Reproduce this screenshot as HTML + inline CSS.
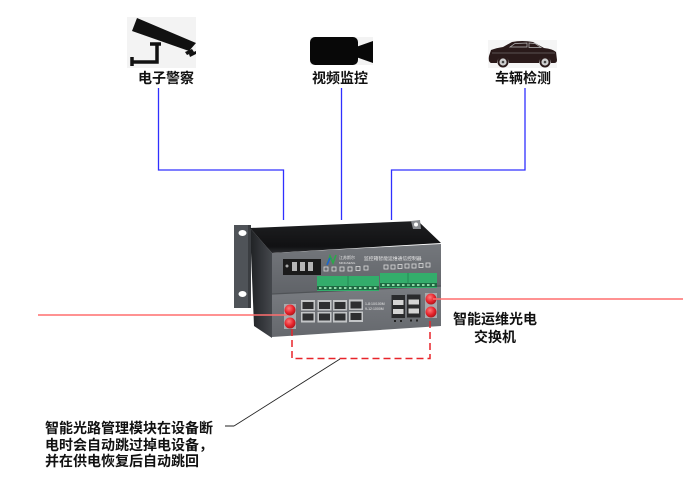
<!DOCTYPE html>
<html><head><meta charset="utf-8"><style>
html,body{margin:0;padding:0;background:#fff;}
svg{display:block;}
.lb{font-family:"Liberation Sans","Noto Sans CJK SC",sans-serif;font-weight:bold;fill:#111;font-size:14px;}
.tiny{font-family:"Liberation Sans","Noto Sans CJK SC",sans-serif;fill:#e6e6e6;}
</style></head><body>
<svg width="700" height="495" viewBox="0 0 700 495" xmlns="http://www.w3.org/2000/svg">
<defs>
<linearGradient id="top" x1="0" y1="0" x2="0" y2="1">
<stop offset="0" stop-color="#1e1f21"/><stop offset="0.8" stop-color="#111113"/><stop offset="1" stop-color="#2a2b2e"/>
</linearGradient>
<linearGradient id="side" x1="0" y1="0" x2="1" y2="0">
<stop offset="0" stop-color="#1f2124"/><stop offset="1" stop-color="#45484d"/>
</linearGradient>
<linearGradient id="up" x1="0" y1="0" x2="0" y2="1">
<stop offset="0" stop-color="#74777c"/><stop offset="1" stop-color="#606368"/>
</linearGradient>
<linearGradient id="lo" x1="0" y1="0" x2="0" y2="1">
<stop offset="0" stop-color="#7a7d82"/><stop offset="1" stop-color="#65686d"/>
</linearGradient>
<radialGradient id="red" cx="0.4" cy="0.35" r="0.7">
<stop offset="0" stop-color="#ff7a7a"/><stop offset="0.6" stop-color="#e5222a"/><stop offset="1" stop-color="#a8141a"/>
</radialGradient>
</defs>

<!-- icons -->
<rect x="127" y="17" width="69" height="51" fill="#f3f3f3"/>
<polygon points="137,18 196,43 189,51 132,31" fill="#111"/>
<polygon points="185,52 192,49 194,52 187,55" fill="#111"/>
<polygon points="189,54 196,51 196,54 190,57" fill="#111"/>
<path d="M150,44 H161 M157,44 V62 H132 M132,57 V66" stroke="#111" stroke-width="3.5" fill="none"/>

<rect x="310" y="37" width="63" height="28" fill="#f3f3f3"/>
<rect x="310" y="37" width="48" height="28" rx="5" fill="#080808"/>
<polygon points="356,47 373,41 373,63 356,57" fill="#080808"/>

<rect x="488" y="40" width="69" height="28" fill="#f5f5f5"/>
<path d="M489,56 L491,50 Q496,48 503,47 L512,42 Q522,40 533,42 L544,48 Q553,49 556,52 L557,60 Q557,63 554,63 L551,63 A6,6 0 0 0 539,63 L509,63 A6,6 0 0 0 497,63 L491,63 Q488,62 489,56 Z" fill="#2a1a1a"/>
<path d="M510,47 L515,43.5 L527,43 L527,47 Z M529,43 L535,43.5 L541,47.5 L529,47.5 Z" fill="none" stroke="#bbb" stroke-width="0.7"/>
<path d="M492,53 H555" stroke="#888" stroke-width="0.5"/>
<circle cx="503" cy="62" r="5.5" fill="#2a1a1a"/><circle cx="503" cy="62" r="3.6" fill="#cfcfcf"/><circle cx="503" cy="62" r="1.3" fill="#444"/>
<circle cx="545" cy="62" r="5.5" fill="#2a1a1a"/><circle cx="545" cy="62" r="3.6" fill="#cfcfcf"/><circle cx="545" cy="62" r="1.3" fill="#444"/>

<text class="lb" x="166" y="83" text-anchor="middle">电子警察</text>
<text class="lb" x="340" y="83" text-anchor="middle">视频监控</text>
<text class="lb" x="523" y="83" text-anchor="middle">车辆检测</text>

<!-- blue lines -->
<path d="M158.5,88 V170 H283.5 V220 M341.5,88 V220 M525,88 V170 H391.5 V220" stroke="#3030ff" stroke-width="1.3" fill="none"/>

<!-- device -->
<polygon points="250,228 272,253 272,338 254,326" fill="url(#side)"/>
<rect x="234" y="225" width="17" height="83" fill="#4f5358"/>
<rect x="248" y="225" width="3" height="83" fill="#3a3d41"/>
<ellipse cx="242.5" cy="233" rx="4" ry="3" fill="#fff"/>
<ellipse cx="242.5" cy="294" rx="4" ry="3" fill="#fff"/>
<polygon points="250,228 418,221 441,243 272,253" fill="url(#top)"/>
<polygon points="411,221 420,220 421,229 413,229" fill="#8a8d91"/>
<circle cx="416" cy="224.5" r="2" fill="#fff"/>
<polygon points="272,253 441,244 441,286 272,294" fill="url(#up)"/>
<polygon points="272,294 441,286 441,326 272,337" fill="url(#lo)"/>
<path d="M272,294 L441,286" stroke="#505357" stroke-width="1.2"/>

<!-- power terminal -->
<rect x="283" y="259" width="38" height="16" fill="#1b1b1b"/>
<rect x="292" y="262" width="5" height="9" fill="#b5b5b5"/>
<rect x="300" y="262" width="5" height="9" fill="#b5b5b5"/>
<rect x="308" y="262" width="5" height="9" fill="#b5b5b5"/>
<circle cx="287" cy="266" r="1.5" fill="#aaa"/>
<!-- logo -->
<path d="M327,265 L330,256 L333,263 L336,255" stroke="#2aa84a" stroke-width="1.6" fill="none"/>
<path d="M327,265 L330,258" stroke="#2060d0" stroke-width="1.6"/>
<text class="tiny" x="339" y="259" font-size="4">江苏斯尔</text>
<text class="tiny" x="339" y="264" font-size="3">MINGSENG</text>
<text class="tiny" x="364" y="260" font-size="4.8">监控箱智能运维通信控制器</text>
<!-- icon row -->
<g fill="none" stroke="#dcdcdc" stroke-width="0.8">
<rect x="324" y="267" width="4" height="4"/><rect x="332" y="267" width="4" height="4"/><rect x="340" y="267" width="4" height="4"/><rect x="348" y="267" width="4" height="4"/><rect x="356" y="266.5" width="4" height="4"/><rect x="364" y="266" width="4" height="4"/>
<rect x="384" y="265" width="4" height="4"/><rect x="391" y="265" width="4" height="4"/><rect x="398" y="264.5" width="4" height="4"/><rect x="405" y="264" width="4" height="4"/><rect x="412" y="264" width="4" height="4"/><rect x="419" y="263.5" width="4" height="4"/><rect x="426" y="263" width="4" height="4"/>
</g>
<!-- green blocks -->
<rect x="317" y="276" width="62" height="15" fill="#33ad6b"/>
<rect x="380" y="273" width="57" height="15" fill="#33ad6b"/>
<rect x="317" y="286" width="62" height="4" fill="#1f6a42"/>
<rect x="380" y="283" width="57" height="4" fill="#1f6a42"/>
<g fill="#8fd9a8">
<rect x="319" y="287" width="2.5" height="2"/><rect x="324" y="287" width="2.5" height="2"/><rect x="329" y="287" width="2.5" height="2"/><rect x="334" y="287" width="2.5" height="2"/><rect x="339" y="287" width="2.5" height="2"/><rect x="344" y="287" width="2.5" height="2"/><rect x="349" y="287" width="2.5" height="2"/><rect x="354" y="287" width="2.5" height="2"/><rect x="359" y="287" width="2.5" height="2"/><rect x="364" y="287" width="2.5" height="2"/><rect x="369" y="287" width="2.5" height="2"/><rect x="374" y="287" width="2.5" height="2"/>
<rect x="382" y="284" width="2.5" height="2"/><rect x="387" y="284" width="2.5" height="2"/><rect x="392" y="284" width="2.5" height="2"/><rect x="397" y="284" width="2.5" height="2"/><rect x="402" y="284" width="2.5" height="2"/><rect x="407" y="284" width="2.5" height="2"/><rect x="412" y="284" width="2.5" height="2"/><rect x="417" y="284" width="2.5" height="2"/><rect x="422" y="284" width="2.5" height="2"/><rect x="427" y="284" width="2.5" height="2"/><rect x="432" y="284" width="2.5" height="2"/>
</g>
<path d="M348,276 V290 M408,273 V287" stroke="#24804f" stroke-width="0.8"/>

<!-- RJ45 ports -->
<g>
<rect x="301" y="300" width="14" height="10.5" fill="#c3c5c7"/><rect x="302.5" y="302" width="11" height="7" fill="#2e2f31"/>
<rect x="317.5" y="300" width="14" height="10.5" fill="#c3c5c7"/><rect x="319" y="302" width="11" height="7" fill="#2e2f31"/>
<rect x="333" y="300" width="14" height="10.5" fill="#c3c5c7"/><rect x="334.5" y="302" width="11" height="7" fill="#2e2f31"/>
<rect x="349" y="299.5" width="14" height="10.5" fill="#c3c5c7"/><rect x="350.5" y="301.5" width="11" height="7" fill="#2e2f31"/>
<rect x="301" y="312" width="14" height="10.5" fill="#c3c5c7"/><rect x="302.5" y="313.5" width="11" height="7" fill="#2e2f31"/>
<rect x="317.5" y="312" width="14" height="10.5" fill="#c3c5c7"/><rect x="319" y="313.5" width="11" height="7" fill="#2e2f31"/>
<rect x="333" y="312" width="14" height="10.5" fill="#c3c5c7"/><rect x="334.5" y="313.5" width="11" height="7" fill="#2e2f31"/>
<rect x="349" y="311.5" width="14" height="10.5" fill="#c3c5c7"/><rect x="350.5" y="313" width="11" height="7" fill="#2e2f31"/>
</g>
<text class="tiny" x="365" y="305" font-size="3.5">1-8:10/100M</text>
<text class="tiny" x="365" y="310" font-size="3.5">9-12:1000M</text>
<!-- SFP -->
<g>
<rect x="391.5" y="295" width="13.5" height="23" fill="#2a2b2d"/>
<rect x="407" y="294.5" width="13.5" height="23" fill="#2a2b2d"/>
<rect x="393" y="300" width="10.5" height="5" fill="#d4d4d4"/><rect x="408.5" y="299.5" width="10.5" height="5" fill="#d4d4d4"/>
<rect x="393" y="309" width="10.5" height="5" fill="#d4d4d4"/><rect x="408.5" y="308.5" width="10.5" height="5" fill="#d4d4d4"/>
<rect x="394" y="320" width="2" height="2" fill="#222"/><rect x="400" y="320" width="2" height="2" fill="#222"/>
<rect x="410" y="319.5" width="2" height="2" fill="#222"/><rect x="416" y="319.5" width="2" height="2" fill="#222"/>
</g>
<!-- red connectors -->
<rect x="284" y="304" width="12" height="25" fill="#a7a9ac"/>
<rect x="425" y="293" width="12" height="25" fill="#a7a9ac"/>
<circle cx="290" cy="310" r="5.5" fill="url(#red)"/>
<circle cx="290" cy="323" r="5.5" fill="url(#red)"/>
<circle cx="431" cy="299" r="5.5" fill="url(#red)"/>
<circle cx="431" cy="312" r="5.5" fill="url(#red)"/>

<!-- red lines -->
<path d="M38,315 H287" stroke="#ff6e6e" stroke-width="1.6"/>
<path d="M433,299 H683" stroke="#ff6e6e" stroke-width="1.6"/>
<path d="M292,329 V358.5 H430 V317" stroke="#e8242a" stroke-width="1.5" fill="none" stroke-dasharray="7,4"/>

<!-- callout -->
<path d="M340,359 L234,426 M225,426 H234" stroke="#222" stroke-width="0.9" fill="none"/>

<text class="lb" x="495" y="324" text-anchor="middle">智能运维光电</text>
<text class="lb" x="495" y="342" text-anchor="middle">交换机</text>

<text class="lb" x="45" y="433">智能光路管理模块在设备断</text>
<text class="lb" x="45" y="450">电时会自动跳过掉电设备，</text>
<text class="lb" x="45" y="466">并在供电恢复后自动跳回</text>
</svg>
</body></html>
